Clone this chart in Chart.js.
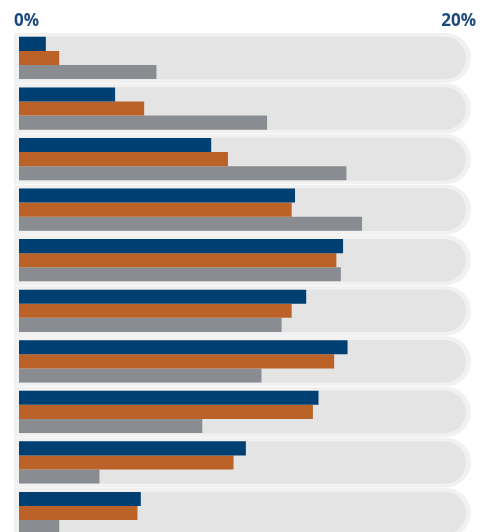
<!DOCTYPE html>
<html lang="en">
<head>
  <meta charset="UTF-8" />
  <title>Grouped bars</title>
  <script src="https://cdn.jsdelivr.net/npm/chart.js"></script>
  <style>
    html, body { margin: 0; padding: 0; background: #fff; overflow: hidden; }
    #wrap { width: 492px; height: 540px; }
  </style>
</head>
<body>
  <div id="wrap"><canvas id="chart" width="492" height="540"></canvas></div>
  <script>
    // rows, top to bottom (no visible labels in the picture)
    const categories = ['1', '2', '3', '4', '5', '6', '7', '8', '9', '10'];
    const navyValues   = [1.2, 4.3, 8.6, 12.35, 14.5, 12.85, 14.7, 13.4, 10.15, 5.45];
    const orangeValues = [1.8, 5.6, 9.35, 12.2, 14.2, 12.2, 14.1, 13.15, 9.6, 5.3];
    const grayValues   = [6.15, 11.1, 14.65, 15.35, 14.4, 11.75, 10.85, 8.2, 3.6, 1.8];
    const axisMin = 0;
    const axisMax = 20;
    const tickLabels = ['0%', '20%'];

    // light rounded "track" behind each row + the two axis labels on top
    const tracks = {
      id: 'tracks',
      beforeDatasetsDraw(chart) {
        const { ctx, scales: { x, y } } = chart;
        const pitch = y.getPixelForValue(1) - y.getPixelForValue(0);
        const x0 = x.getPixelForValue(axisMin);
        const x1 = x.getPixelForValue(axisMax);
        const pill = (l, t, r, b, fill) => {
          const rad = (b - t) / 2;
          ctx.beginPath();
          ctx.moveTo(l, t);
          ctx.lineTo(r - rad, t);
          ctx.arc(r - rad, t + rad, rad, -Math.PI / 2, Math.PI / 2);
          ctx.lineTo(l, b);
          ctx.closePath();
          ctx.fillStyle = fill;
          ctx.fill();
        };
        ctx.save();
        categories.forEach((c, i) => {
          const yc = y.getPixelForValue(i);
          pill(x0 - 5, yc - pitch / 2 + 0.3, x1 + 5, yc + pitch / 2 - 0.3, '#f1f1f1');
          pill(x0, yc - 21.3, x1, yc + 21.3, '#e4e4e4');
        });
        ctx.restore();
      },
      afterDraw(chart) {
        const { ctx, scales: { x } } = chart;
        ctx.save();
        ctx.font = 'bold 17px "Open Sans", sans-serif';
        ctx.fillStyle = '#1d4a7b';
        ctx.textBaseline = 'alphabetic';
        ctx.textAlign = 'left';
        ctx.fillText(tickLabels[0], x.getPixelForValue(axisMin) - 5, 26);
        ctx.textAlign = 'right';
        ctx.fillText(tickLabels[1], x.getPixelForValue(axisMax) + 10, 26);
        ctx.restore();
      }
    };

    new Chart(document.getElementById('chart').getContext('2d'), {
      type: 'bar',
      data: {
        labels: categories,
        datasets: [
          { label: 'Series 1', data: navyValues, backgroundColor: '#003f72' },
          { label: 'Series 2', data: orangeValues, backgroundColor: '#bb6228' },
          { label: 'Series 3', data: grayValues, backgroundColor: '#898c91' }
        ]
      },
      options: {
        indexAxis: 'y',
        responsive: false,
        animation: false,
        datasets: { bar: { categoryPercentage: 0.835, barPercentage: 1, borderWidth: 0 } },
        layout: { padding: { left: 19, right: 26, top: 32.7, bottom: 1.7 } },
        plugins: { legend: { display: false }, tooltip: { enabled: false } },
        scales: {
          x: { display: false, min: axisMin, max: axisMax },
          y: { display: false }
        }
      },
      plugins: [tracks]
    });
  </script>
</body>
</html>
